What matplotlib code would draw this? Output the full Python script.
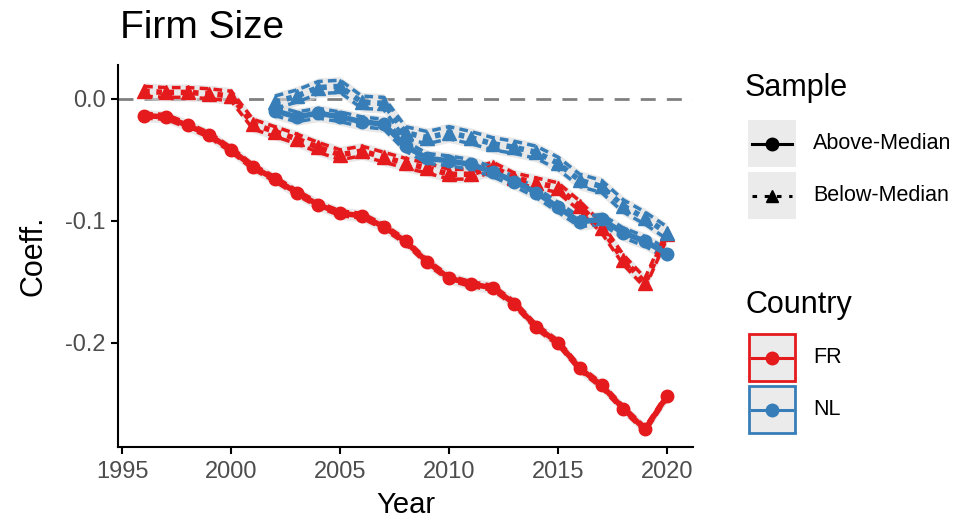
import numpy as np
import matplotlib
matplotlib.use("Agg")
import matplotlib.pyplot as plt
from matplotlib.patches import Rectangle
from matplotlib.lines import Line2D

plt.rcParams['font.family'] = ['Liberation Sans', 'DejaVu Sans']

years_fr = list(range(1996, 2021))
years_nl = list(range(2002, 2021))

fr_above = [-0.014, -0.015, -0.022, -0.030, -0.042, -0.056, -0.066, -0.077, -0.087, -0.094,
            -0.096, -0.105, -0.117, -0.134, -0.147, -0.152, -0.155, -0.168, -0.187, -0.200,
            -0.221, -0.235, -0.254, -0.271, -0.244]
fr_above_ci = 0.002
fr_below = [0.006, 0.005, 0.005, 0.004, 0.002, -0.021, -0.027, -0.033, -0.040, -0.046,
            -0.043, -0.048, -0.053, -0.057, -0.062, -0.062, -0.056, -0.065, -0.069, -0.073,
            -0.088, -0.106, -0.132, -0.151, -0.111]
fr_below_ci = 0.004
nl_above = [-0.010, -0.015, -0.012, -0.015, -0.019, -0.021, -0.039, -0.049, -0.051, -0.054,
            -0.060, -0.068, -0.077, -0.089, -0.101, -0.099, -0.110, -0.117, -0.127]
nl_above_ci = 0.004
nl_below = [-0.003, 0.002, 0.009, 0.010, -0.003, -0.004, -0.028, -0.032, -0.028, -0.032,
            -0.037, -0.040, -0.044, -0.053, -0.067, -0.072, -0.088, -0.098, -0.110]
nl_below_ci = 0.005

RED = '#E41A1C'
BLUE = '#377EB8'

fig = plt.figure(figsize=(9.55, 5.23), dpi=100)
ax = fig.add_axes([118/955, 1-447/523, (693-118)/955, (447-65)/523])

ax.axhline(0, color='#808080', lw=2, ls=(0, (5.4, 4)), zorder=1)

def series(x, y, ci, color, ls, marker, ms):
    x = np.array(x); y = np.array(y)
    lo, hi = y - ci, y + ci
    ax.fill_between(x, lo - 0.003, hi + 0.003, color='#d9d9d9', alpha=0.6, lw=0, zorder=2)
    ax.plot(x, lo, color=color, lw=2.5, ls=(0, (2.5, 1.5)), zorder=3)
    ax.plot(x, hi, color=color, lw=2.5, ls=(0, (2.5, 1.5)), zorder=3)
    ax.plot(x, y, color=color, lw=4, ls=ls, marker=marker, ms=ms, zorder=4)

series(years_fr, fr_below, fr_below_ci, RED, (0, (1, 1.2)), '^', 10)
series(years_nl, nl_below, nl_below_ci, BLUE, (0, (1, 1.2)), '^', 10)
series(years_nl, nl_above, nl_above_ci, BLUE, '-', 'o', 9)
series(years_fr, fr_above, fr_above_ci, RED, '-', 'o', 9)

ax.set_xlim(1994.8, 2021.2)
ax.set_ylim(-0.2855, 0.0275)
ax.set_xticks([1995, 2000, 2005, 2010, 2015, 2020])
ax.set_yticks([0.0, -0.1, -0.2])
ax.set_yticklabels(['0.0', '-0.1', '-0.2'])
for s in ['top', 'right']:
    ax.spines[s].set_visible(False)
for s in ['left', 'bottom']:
    ax.spines[s].set_linewidth(1.5)
ax.tick_params(axis='both', length=5, width=1.5, labelsize=17, labelcolor='#4d4d4d')
ax.tick_params(axis='x', pad=5)
ax.tick_params(axis='y', pad=4)
ax.set_xlabel('Year', fontsize=21, labelpad=6)
ax.set_ylabel('Coeff.', fontsize=22, labelpad=12)
fig.text(120/955, 1-28/523, 'Firm Size', fontsize=28, ha='left', va='center')

# legend overlay in pixel coordinates
lax = fig.add_axes([0, 0, 1, 1], facecolor='none')
lax.set_xlim(0, 955); lax.set_ylim(523, 0); lax.axis('off')

lax.text(745, 88, 'Sample', fontsize=22, ha='left', va='center')
for i, (lab, ls, mk) in enumerate([('Above-Median', '-', 'o'), ('Below-Median', (0, (1.5, 2.5)), '^')]):
    y0 = 120 + i * 52
    lax.add_patch(Rectangle((748, y0), 48, 47, facecolor='#ebebeb', edgecolor='none'))
    lax.add_line(Line2D([752, 792], [y0 + 23.5, y0 + 23.5], color='black', lw=2.2, ls=ls))
    lax.plot([772], [y0 + 23.5], marker=mk, color='black', ms=9)
    lax.text(813, y0 + 23.5, lab, fontsize=15.5, ha='left', va='center')

lax.text(745, 305, 'Country', fontsize=22, ha='left', va='center')
for i, (lab, col) in enumerate([('FR', RED), ('NL', BLUE)]):
    y0 = 334 + i * 52
    lax.add_patch(Rectangle((749, y0), 46, 47, facecolor='#ebebeb', edgecolor=col, lw=2))
    lax.add_line(Line2D([752, 792], [y0 + 23.5, y0 + 23.5], color=col, lw=2.2))
    lax.plot([772], [y0 + 23.5], marker='o', color=col, ms=9)
    lax.text(813, y0 + 23.5, lab, fontsize=15.5, ha='left', va='center')

fig.savefig('out.png', dpi=100)
